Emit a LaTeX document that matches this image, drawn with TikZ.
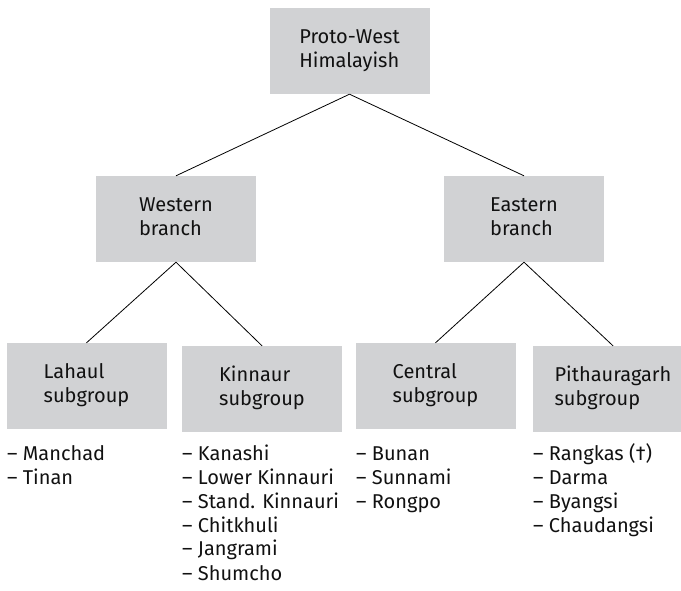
\documentclass[tikz,border=0pt]{standalone}
\usepackage{fontspec}
\setmainfont{Fira Sans}
\definecolor{boxgray}{HTML}{D1D2D4}
\definecolor{txt}{HTML}{111111}
\tikzset{
  grpbox/.style={fill=boxgray, draw=none, minimum width=160pt, minimum height=86pt, inner sep=0pt, text=txt},
  listtext/.style={anchor=base west, inner sep=0pt, text=txt},
  link/.style={draw=black, line width=0.8pt}
}
\newcommand{\twol}[2]{\begin{tabular}{@{}l@{}}#1\\#2\end{tabular}}
\begin{document}
\begin{tikzpicture}[x=1pt,y=-1pt,font=\fontsize{20}{24}\selectfont]
\useasboundingbox (0,0) rectangle (681,591);
\clip (0,0) rectangle (681,591);
\node[grpbox] (top) at (349.5,51) {\twol{Proto-West}{Himalayish}};
\node[grpbox] (west) at (176,219) {\twol{Western}{branch}};
\node[grpbox] (east) at (524,219) {\twol{Eastern}{branch}};
\node[grpbox] (lahaul) at (86.5,386) {\twol{Lahaul}{subgroup}};
\node[grpbox] (kinnaur) at (262,389) {\twol{Kinnaur}{subgroup}};
\node[grpbox] (central) at (435.5,386) {\twol{Central}{subgroup}};
\node[grpbox] (pith) at (613,389) {\twol{Pithauragarh}{subgroup}};
\draw[link] (top.south) -- (west.north);
\draw[link] (top.south) -- (east.north);
\draw[link] (west.south) -- (lahaul.north);
\draw[link] (west.south) -- (kinnaur.north);
\draw[link] (east.south) -- (central.north);
\draw[link] (east.south) -- (pith.north);
\node[listtext] (l1) at (7,460) {\begin{tabular}[t]{@{}l@{}}– Manchad\\– Tinan\end{tabular}};
\node[listtext] (l2) at (182,460) {\begin{tabular}[t]{@{}l@{}}– Kanashi\\– Lower Kinnauri\\– Stand. Kinnauri\\– Chitkhuli\\– Jangrami\\– Shumcho\end{tabular}};
\node[listtext] (l3) at (356,460) {\begin{tabular}[t]{@{}l@{}}– Bunan\\– Sunnami\\– Rongpo\end{tabular}};
\node[listtext] (l4) at (533,460) {\begin{tabular}[t]{@{}l@{}}– Rangkas (†)\\– Darma\\– Byangsi\\– Chaudangsi\end{tabular}};
\end{tikzpicture}
\end{document}
